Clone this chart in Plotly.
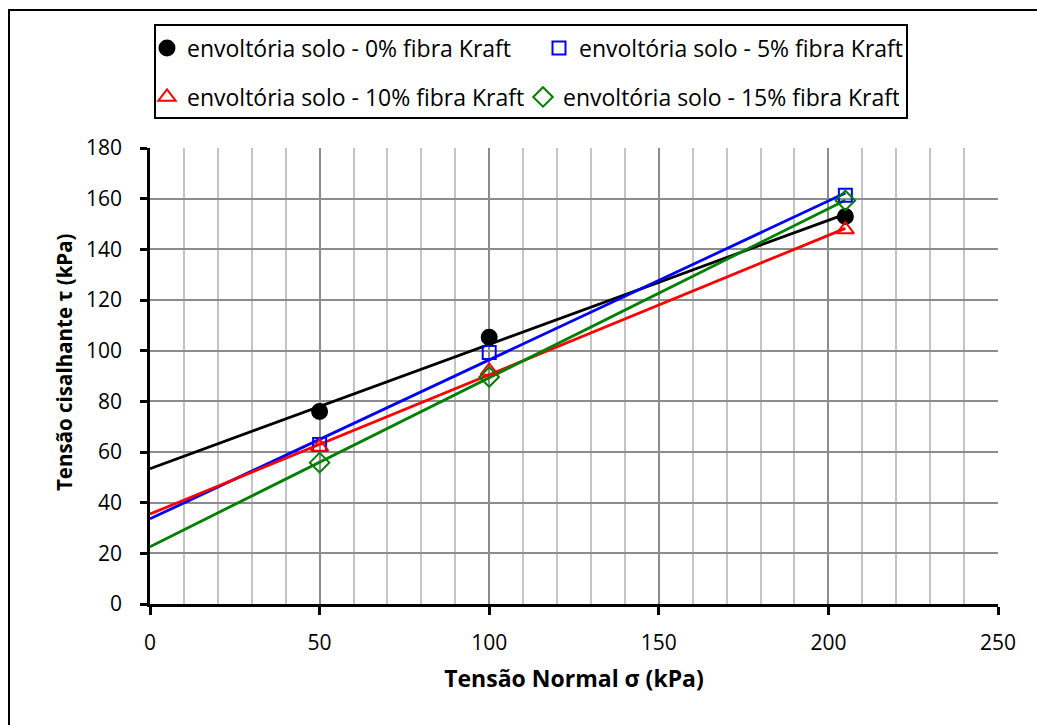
import numpy as np
import plotly.graph_objects as go

# ---- data ----
sigma = [50, 100, 205]
tau_0 = [76.0, 105.3, 153.0]
tau_5 = [63.0, 99.3, 161.3]
tau_10 = [62.0, 92.0, 147.8]
tau_15 = [55.8, 89.6, 159.3]
names = ["envoltória solo - 0% fibra Kraft", "envoltória solo - 5% fibra Kraft",
         "envoltória solo - 10% fibra Kraft", "envoltória solo - 15% fibra Kraft"]
trend_x = [0, 205]
x_ticks = [0, 50, 100, 150, 200, 250]
y_ticks = [0, 20, 40, 60, 80, 100, 120, 140, 160, 180]

series = [tau_0, tau_5, tau_10, tau_15]
colors = ["#000000", "#0000FF", "#FF0000", "#008000"]
symbols = ["circle", "square-open", "triangle-up-open", "diamond-open"]
msizes = [15, 13, 15, 15]
legends = ["legend", "legend", "legend2", "legend2"]

W, H = 1037, 725
L, R, T, B = 150, 39, 148, 121
pw, ph = W - L - R, H - T - B

def px2x(p):
    return (p - L) / pw

def px2y(p):
    return (H - B - p) / ph

FONT = "Open Sans"
fig = go.Figure()
for ys, c in zip(series, colors):
    k, b = np.polyfit(sigma, ys, 1)
    fig.add_trace(go.Scatter(x=trend_x, y=[b + k * xx for xx in trend_x], mode="lines",
                             line=dict(color=c, width=2.8), showlegend=False, hoverinfo="skip"))
for ys, c, s, ms, nm, lg in zip(series, colors, symbols, msizes, names, legends):
    fig.add_trace(go.Scatter(x=sigma, y=ys, mode="markers", name=nm, legend=lg,
                             marker=dict(color=c, symbol=s, size=ms, line=dict(color=c, width=2))))

fig.update_layout(
    width=W, height=H,
    margin=dict(l=L, r=R, t=T, b=B),
    paper_bgcolor="white", plot_bgcolor="white",
    font=dict(family=FONT, color="black", size=21),
    legend=dict(orientation="h", x=px2x(147), y=px2y(48), xanchor="left", yanchor="middle",
                entrywidth=347, entrywidthmode="pixels", font=dict(size=23), bgcolor="rgba(0,0,0,0)"),
    legend2=dict(orientation="h", x=px2x(147), y=px2y(97), xanchor="left", yanchor="middle",
                 entrywidth=331, entrywidthmode="pixels", font=dict(size=23), bgcolor="rgba(0,0,0,0)"),
    showlegend=True,
)
fig.update_xaxes(range=[0, 250], tickvals=x_ticks, showline=True, linecolor="black", linewidth=2.5,
                 ticks="outside", ticklen=8, tickwidth=2.5, tickcolor="black",
                 showgrid=True, gridcolor="#8C8C8C", gridwidth=1.5, zeroline=False,
                 minor=dict(dtick=10, showgrid=True, gridcolor="#C4C4C4", gridwidth=1.5),
                 ticklabelstandoff=10,
                 title=dict(text="<b>Tensão Normal σ (kPa)</b>", font=dict(size=23), standoff=16))
fig.update_yaxes(range=[0, 180], tickvals=y_ticks, showline=True, linecolor="black", linewidth=2.5,
                 ticks="outside", ticklen=7, tickwidth=2.5, tickcolor="black",
                 showgrid=True, gridcolor="#8C8C8C", gridwidth=1.5, zeroline=False,
                 ticklabelstandoff=14)

fig.add_annotation(text="<b>Tensão cisalhante τ (kPa)</b>", textangle=-90,
                   xref="paper", yref="paper", x=px2x(64), y=px2y(362),
                   xanchor="center", yanchor="middle", showarrow=False, font=dict(size=20.5))

# legend frame and outer chart frame
fig.add_shape(type="rect", xref="paper", yref="paper",
              x0=px2x(155), x1=px2x(907), y0=px2y(118), y1=px2y(25),
              line=dict(color="black", width=2), fillcolor="rgba(0,0,0,0)")
fig.add_shape(type="rect", xref="paper", yref="paper",
              x0=px2x(9), x1=px2x(1045), y0=px2y(740), y1=px2y(10),
              line=dict(color="black", width=2), fillcolor="rgba(0,0,0,0)")

fig.write_html("out.html")
